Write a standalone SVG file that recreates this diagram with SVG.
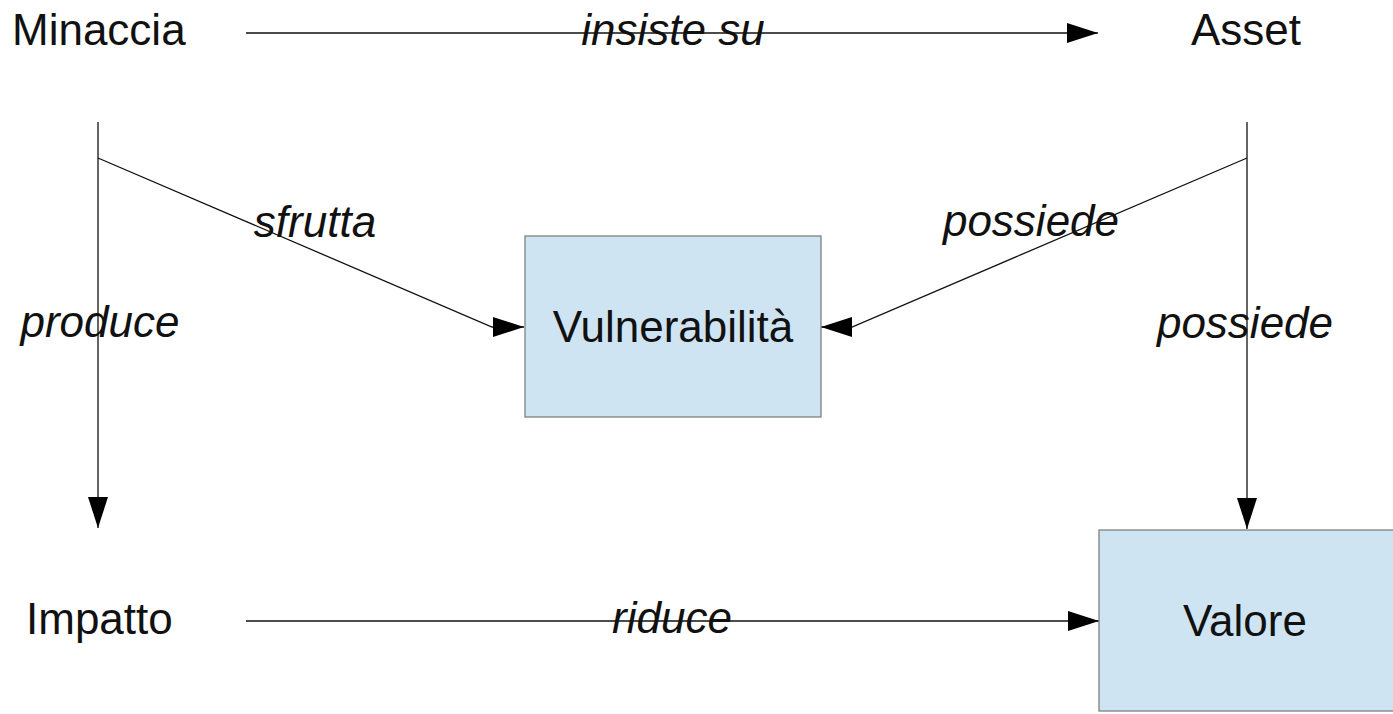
<svg xmlns="http://www.w3.org/2000/svg" width="1393" height="714" viewBox="0 0 1393 714">
  <style>
    .lbl { font-family: "Liberation Sans", Arial, sans-serif; font-size: 44px; fill: #111; }
    .rel { font-family: "Liberation Sans", Arial, sans-serif; font-size: 44px; font-style: italic; fill: #111; text-anchor: middle; }
    .box { fill: #cfe4f2; stroke: #808080; stroke-width: 1.3; }
    .edge { fill: none; stroke: #111; stroke-width: 1.3; marker-end: url(#head); }
  </style>
  <defs>
    <marker id="head" markerUnits="userSpaceOnUse" markerWidth="32" markerHeight="22" refX="31" refY="10" orient="auto">
      <path d="M0,0 L31,10 L0,20 Z" fill="#000"/>
    </marker>
  </defs>
  <rect width="1393" height="714" fill="#fff"/>

  <g id="connectors">
    <!-- Minaccia insiste su Asset -->
    <path class="edge" d="M246,33 L1098,33"/>
    <!-- Minaccia produce Impatto -->
    <path class="edge" d="M98,122 L98,528"/>
    <!-- Minaccia sfrutta Vulnerabilità -->
    <path class="edge" d="M98,158 L492,327 L524,327"/>
    <!-- Asset possiede Vulnerabilità -->
    <path class="edge" d="M1247,158 L852,327 L821,327"/>
    <!-- Asset possiede Valore -->
    <path class="edge" d="M1247,122 L1247,529"/>
    <!-- Impatto riduce Valore -->
    <path class="edge" d="M246,621 L1099,621"/>
  </g>

  <g id="edge-labels">
    <text class="rel" x="673" y="45">insiste su</text>
    <text class="rel" x="315" y="237">sfrutta</text>
    <text class="rel" x="1031" y="236">possiede</text>
    <text class="rel" x="100" y="337">produce</text>
    <text class="rel" x="1245" y="338">possiede</text>
    <text class="rel" x="672" y="633">riduce</text>
  </g>

  <g id="minaccia">
    <text class="lbl" x="12" y="45">Minaccia</text>
  </g>
  <g id="asset">
    <text class="lbl" x="1191" y="45">Asset</text>
  </g>
  <g id="vulnerabilita">
    <rect class="box" x="525" y="236" width="296" height="181"/>
    <text class="lbl" x="673" y="342" text-anchor="middle">Vulnerabilità</text>
  </g>
  <g id="impatto">
    <text class="lbl" x="26" y="634">Impatto</text>
  </g>
  <g id="valore">
    <rect class="box" x="1099" y="530" width="300" height="181"/>
    <text class="lbl" x="1245" y="636" text-anchor="middle">Valore</text>
  </g>
</svg>
